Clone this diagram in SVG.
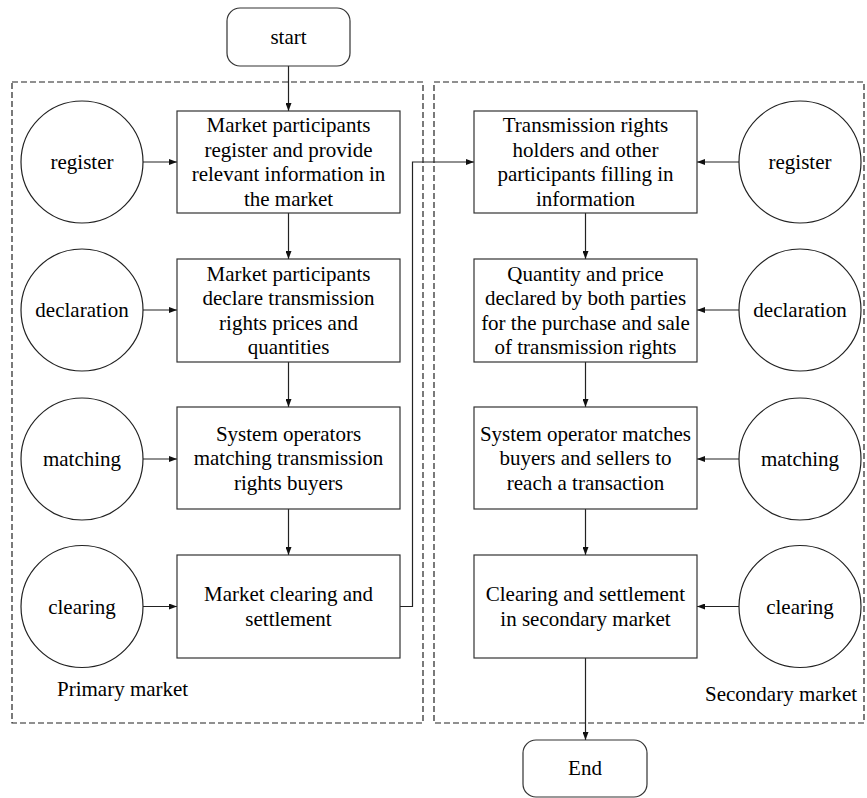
<svg xmlns="http://www.w3.org/2000/svg" width="867" height="798" viewBox="0 0 867 798" font-family="'Liberation Serif', 'Times New Roman', 'DejaVu Serif', serif">
<defs>
<style>
text{font-family:'Liberation Serif','Times New Roman','DejaVu Serif',serif;font-size:21px;fill:#000;text-anchor:middle}
.box{fill:#fff;stroke:#333;stroke-width:1.2}
.circ{fill:#fff;stroke:#222;stroke-width:1.2}
.region{fill:none;stroke:#222;stroke-width:1.2;stroke-dasharray:6 3}
.conn{fill:none;stroke:#222;stroke-width:1.2;marker-end:url(#arr)}
.lbl{text-anchor:start}
</style>
<marker id="arr" viewBox="0 0 8 6" refX="8" refY="3" markerWidth="8" markerHeight="6" markerUnits="userSpaceOnUse" orient="auto">
<path d="M0,0 L8,3 L0,6 Z" fill="#111"/>
</marker>
</defs>
<rect fill="#fff" x="0" y="0" width="867" height="798"/>
<g id="primary-market">
<rect class="region" x="12" y="82" width="411" height="641"/>
<text class="lbl" x="57" y="696">Primary market</text>
</g>
<g id="secondary-market">
<rect class="region" x="434" y="82" width="430" height="641"/>
<text class="lbl" x="705" y="701">Secondary market</text>
</g>
<g id="connectors">
<path class="conn" d="M288.5,66 V111"/>
<path class="conn" d="M288.5,213 V259"/>
<path class="conn" d="M288.5,362 V407"/>
<path class="conn" d="M288.5,509 V555"/>
<path class="conn" d="M143,162 H177"/>
<path class="conn" d="M143,310 H177"/>
<path class="conn" d="M143,459 H177"/>
<path class="conn" d="M143,606.5 H177"/>
<path class="conn" d="M400,606.5 H412.5 V162 H474"/>
<path class="conn" d="M585.5,213 V259"/>
<path class="conn" d="M585.5,362 V407"/>
<path class="conn" d="M585.5,509 V555"/>
<path class="conn" d="M585.5,658 V740"/>
<path class="conn" d="M739,162 H697"/>
<path class="conn" d="M739,310 H697"/>
<path class="conn" d="M739,459 H697"/>
<path class="conn" d="M739,606.5 H697"/>
</g>
<g id="start">
<rect class="box" x="227" y="8" width="123" height="58" rx="13"/>
<text x="288.5" y="44">start</text>
</g>
<g id="end">
<rect class="box" x="523" y="740" width="124" height="57" rx="13"/>
<text x="585" y="775">End</text>
</g>
<g id="c-register-l"><circle class="circ" cx="82" cy="162" r="61"/><text x="82" y="169">register</text></g>
<g id="c-declaration-l"><circle class="circ" cx="82" cy="310" r="61"/><text x="82" y="317">declaration</text></g>
<g id="c-matching-l"><circle class="circ" cx="82" cy="459" r="61"/><text x="82" y="466">matching</text></g>
<g id="c-clearing-l"><circle class="circ" cx="82" cy="606.5" r="61"/><text x="82" y="613.5">clearing</text></g>
<g id="c-register-r"><circle class="circ" cx="800" cy="162" r="61"/><text x="800" y="169">register</text></g>
<g id="c-declaration-r"><circle class="circ" cx="800" cy="310" r="61"/><text x="800" y="317">declaration</text></g>
<g id="c-matching-r"><circle class="circ" cx="800" cy="459" r="61"/><text x="800" y="466">matching</text></g>
<g id="c-clearing-r"><circle class="circ" cx="800" cy="606.5" r="61"/><text x="800" y="613.5">clearing</text></g>
<g id="p1">
<rect class="box" x="177" y="111" width="223" height="102"/>
<text x="288.5" y="132.3">Market participants</text>
<text x="288.5" y="156.8">register and provide</text>
<text x="288.5" y="181.3">relevant information in</text>
<text x="288.5" y="205.8">the market</text>
</g>
<g id="p2">
<rect class="box" x="177" y="259" width="223" height="103"/>
<text x="288.5" y="280.8">Market participants</text>
<text x="288.5" y="305.3">declare transmission</text>
<text x="288.5" y="329.8">rights prices and</text>
<text x="288.5" y="354.3">quantities</text>
</g>
<g id="p3">
<rect class="box" x="177" y="407" width="223" height="102"/>
<text x="288.5" y="440.5">System operators</text>
<text x="288.5" y="465">matching transmission</text>
<text x="288.5" y="489.5">rights buyers</text>
</g>
<g id="p4">
<rect class="box" x="177" y="555" width="223" height="103"/>
<text x="288.5" y="601.3">Market clearing and</text>
<text x="288.5" y="625.8">settlement</text>
</g>
<g id="s1">
<rect class="box" x="474" y="111" width="223" height="102"/>
<text x="585.5" y="132.3">Transmission rights</text>
<text x="585.5" y="156.8">holders and other</text>
<text x="585.5" y="181.3">participants filling in</text>
<text x="585.5" y="205.8">information</text>
</g>
<g id="s2">
<rect class="box" x="474" y="259" width="223" height="103"/>
<text x="585.5" y="280.8">Quantity and price</text>
<text x="585.5" y="305.3">declared by both parties</text>
<text x="585.5" y="329.8">for the purchase and sale</text>
<text x="585.5" y="354.3">of transmission rights</text>
</g>
<g id="s3">
<rect class="box" x="474" y="407" width="223" height="102"/>
<text x="585.5" y="440.5">System operator matches</text>
<text x="585.5" y="465">buyers and sellers to</text>
<text x="585.5" y="489.5">reach a transaction</text>
</g>
<g id="s4">
<rect class="box" x="474" y="555" width="223" height="103"/>
<text x="585.5" y="601.3">Clearing and settlement</text>
<text x="585.5" y="625.8">in secondary market</text>
</g>
</svg>
